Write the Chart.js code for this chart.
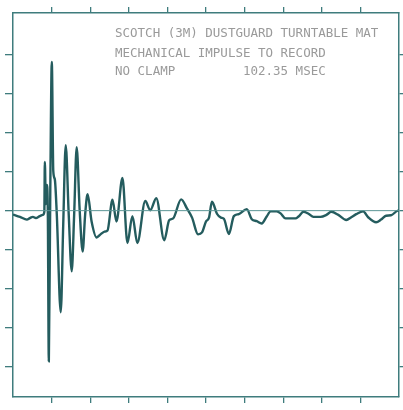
<!DOCTYPE html>
<html><head><meta charset="utf-8">
<script src="https://cdn.jsdelivr.net/npm/chart.js@4.4.1/dist/chart.umd.min.js"></script>
<style>html,body{margin:0;padding:0;background:#fff;}#wrap{width:403px;height:410px;}</style>
</head><body><div id="wrap"><canvas id="c" width="403" height="410"></canvas></div>
<script>
// ---- data (time in ms, amplitude in vertical divisions) ----
const titleLines = [
  "SCOTCH (3M) DUSTGUARD TURNTABLE MAT",
  "MECHANICAL IMPULSE TO RECORD",
  "NO CLAMP         102.35 MSEC"
];
const windowMs = 102.35;
const xTickValues = [10.235, 20.47, 30.705, 40.94, 51.175, 61.41, 71.645, 81.88, 92.115];
const yTickValues = [-4, -3, -2, -1, 0, 1, 2, 3, 4];
const timeMs = [0, 1.85, 3.69, 4.48, 5.28, 6.07, 7.12, 7.91, 8.31, 8.44, 8.71, 8.97, 9.23, 9.50, 9.89, 10.29, 10.68, 11.08, 11.61, 12.66, 13.32, 13.98, 14.77, 15.57, 16.22, 16.88, 17.67, 18.47, 19.13, 19.78, 20.84, 22.16, 23.21, 24.27, 25.06, 26.38, 27.43, 29.02, 30.34, 31.66, 32.97, 35.08, 36.40, 37.99, 40.10, 41.41, 42.47, 44.58, 46.16, 47.48, 49.06, 50.12, 51.17, 51.97, 52.76, 54.08, 55.13, 55.92, 57.24, 58.56, 59.88, 61.99, 63.31, 64.63, 65.95, 67.27, 68.32, 69.90, 70.96, 72.28, 74.92, 75.71, 77.03, 78.35, 79.66, 81.51, 83.09, 84.41, 86.26, 88.37, 89.69, 91.00, 92.85, 94.17, 96.28, 97.60, 98.92, 100.24, 102.08, 102.35];
const amplitude = [-0.10, -0.16, -0.23, -0.19, -0.16, -0.19, -0.14, -0.11, -0.03, 1.25, 0.17, 0.66, 0.00, -3.87, 0.56, 3.82, 1.02, 0.81, -0.09, -2.61, -0.35, 1.68, -0.09, -1.56, -0.09, 1.63, 0.03, -1.05, -0.10, 0.42, -0.28, -0.69, -0.61, -0.54, -0.51, 0.28, -0.28, 0.84, -0.83, -0.14, -0.83, 0.25, 0.01, 0.32, -0.76, -0.25, -0.20, 0.29, 0.05, -0.18, -0.61, -0.56, -0.28, -0.18, 0.23, -0.08, -0.18, -0.21, -0.60, -0.14, -0.09, 0.04, -0.22, -0.27, -0.33, -0.15, -0.02, -0.02, -0.07, -0.20, -0.20, -0.15, -0.03, -0.08, -0.16, -0.16, -0.11, -0.03, -0.11, -0.24, -0.17, -0.09, -0.02, -0.17, -0.30, -0.23, -0.13, -0.12, 0.00, 0.00];
const yMin = -4.79, yMax = 5.08;

const traceColor = '#245c5e';
const frameColor = '#3f7c7d';
const zeroColor = '#5b9596';
const textColor = '#9a9a9a';

const tracePoints = timeMs.map((t, i) => ({x: t, y: amplitude[i]}));
const zeroPoints = [{x: 0, y: 0}, {x: windowMs, y: 0}];

function axis(pos, isX, tickLen) {
  return {
    type: 'linear', position: pos,
    min: isX ? 0 : yMin, max: isX ? windowMs : yMax,
    ticks: {display: false},
    grid: {display: true, drawOnChartArea: false, drawTicks: true, tickLength: tickLen, color: frameColor, lineWidth: 1.3},
    border: {display: true, color: frameColor, width: 1.5},
    afterBuildTicks: s => { s.ticks = (isX ? xTickValues : yTickValues).map(v => ({value: v})); }
  };
}

const textPlugin = {
  id: 'plotText',
  afterDraw(chart) {
    const ctx = chart.ctx;
    ctx.save();
    ctx.fillStyle = textColor;
    ctx.font = '12.5px "DejaVu Sans Mono"';
    ctx.textBaseline = 'alphabetic';
    const base = [37, 57, 75];
    titleLines.forEach((l, i) => ctx.fillText(l, 115, base[i]));
    ctx.restore();
  }
};

new Chart(document.getElementById('c'), {
  type: 'line',
  data: {
    datasets: [
      {data: zeroPoints, borderColor: zeroColor, borderWidth: 1, pointRadius: 0, xAxisID: 'x', yAxisID: 'y'},
      {data: tracePoints, borderColor: traceColor, borderWidth: 2.4, pointRadius: 0, cubicInterpolationMode: 'monotone', xAxisID: 'x', yAxisID: 'y'}
    ]
  },
  options: {
    responsive: false, animation: false, devicePixelRatio: 1,
    layout: {padding: {left: 5, top: 7, right: 0, bottom: 7}},
    plugins: {legend: {display: false}, tooltip: {enabled: false}},
    scales: {
      x: axis('bottom', true, 6),
      x2: axis('top', true, 6),
      y: axis('left', false, 8),
      y2: axis('right', false, 4)
    }
  },
  plugins: [textPlugin]
});
</script></body></html>
